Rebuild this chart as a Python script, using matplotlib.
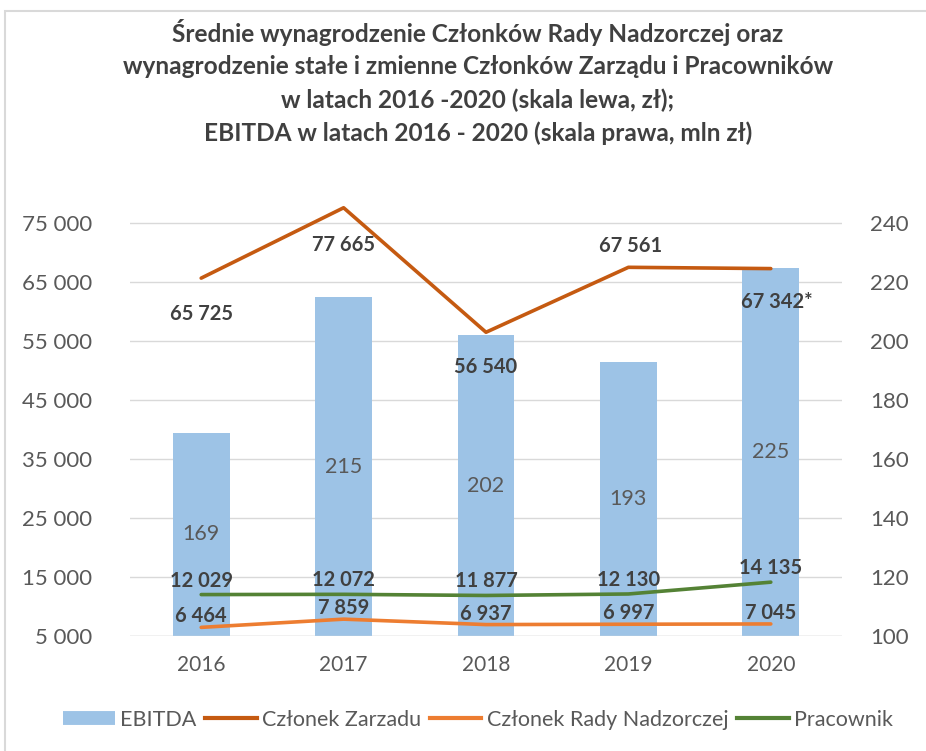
import matplotlib
matplotlib.use("Agg")
import matplotlib.pyplot as plt
from matplotlib.patches import Rectangle
from matplotlib.lines import Line2D
from matplotlib.ticker import FixedLocator, FuncFormatter

years = ["2016", "2017", "2018", "2019", "2020"]
ebitda = [169, 215, 202, 193, 225]
zarzad = [65725, 77665, 56540, 67561, 67342]
rada = [6464, 7859, 6937, 6997, 7045]
pracownik = [12029, 12072, 11877, 12130, 14135]
zarzad_labels = ["65 725", "77 665", "56 540", "67 561", "67 342*"]
left_ticks = [5000, 15000, 25000, 35000, 45000, 55000, 65000, 75000]
right_ticks = [100, 120, 140, 160, 180, 200, 220, 240]

title = ("Średnie wynagrodzenie Członków Rady Nadzorczej oraz\n"
         "wynagrodzenie stałe i zmienne Członków Zarządu i Pracowników\n"
         "w latach 2016 -2020 (skala lewa, zł);\n"
         "EBITDA w latach 2016 - 2020 (skala prawa, mln zł)")

C_BAR = "#9DC3E6"
C_ZAR = "#C55A11"
C_RADA = "#ED7D31"
C_PRAC = "#548235"
C_TXT = "#595959"
C_LBL = "#404040"
C_GRID = "#D9D9D9"
FONT = ["Lato", "DejaVu Sans"]

plt.rcParams['font.family'] = FONT

W, H = 926, 751
fig = plt.figure(figsize=(W / 100, H / 100), dpi=100)
fig.patch.set_facecolor("white")

# chart border
fig.add_artist(Rectangle((5 / W, -0.1), 1.2, 1 - 11 / H + 0.1, transform=fig.transFigure,
                         fill=False, edgecolor=C_GRID, linewidth=1.5))

ax = fig.add_axes([130 / W, 1 - 636 / H, 712 / W, (636 - 194) / H])
ax2 = ax.twinx()
ax.set_zorder(ax2.get_zorder() + 1)
ax.patch.set_visible(False)

x = list(range(len(years)))

# bars on right axis
ax2.bar(x, ebitda, width=0.40, color=C_BAR, zorder=2)
ax2.set_ylim(100, 250)
ax2.yaxis.set_major_locator(FixedLocator(right_ticks))
for xi, v in zip(x, ebitda):
    ax2.text(xi, (100 + v) / 2, str(v), ha="center", va="center",
             fontsize=15.5, color=C_TXT, zorder=4)

ax.set_ylim(5000, 80000)
ax.set_xlim(-0.5, len(years) - 0.5)
ax.yaxis.set_major_locator(FixedLocator(left_ticks))
ax.yaxis.set_major_formatter(FuncFormatter(lambda v, p: f"{int(v):,}".replace(",", " ")))

for t in right_ticks:
    ax2.axhline(t, color=C_GRID, linewidth=1, zorder=0)

LW = 2.6
ax.plot(x, zarzad, color=C_ZAR, linewidth=LW, solid_capstyle="round", zorder=3)
ax.plot(x, rada, color=C_RADA, linewidth=LW, solid_capstyle="round", zorder=3)
ax.plot(x, pracownik, color=C_PRAC, linewidth=LW, solid_capstyle="round", zorder=3)

zar_off = [(0, -36), (0, -37), (0, -35), (2, 21), (6, -33)]
for xi, v, lab, (dx, dy) in zip(x, zarzad, zarzad_labels, zar_off):
    ax.annotate(lab, (xi, v), xytext=(dx, dy), textcoords="offset pixels",
                ha="center", va="center", fontsize=14.5, fontweight="bold", color=C_LBL, zorder=5)

def fmt_num(v):
    return f"{v:,}".replace(",", " ")

for xi, v in zip(x, pracownik):
    ax.annotate(fmt_num(v), (xi, v), xytext=(0, 14), textcoords="offset pixels",
                ha="center", va="center", fontsize=14.5, fontweight="bold", color=C_LBL, zorder=5)
for xi, v in zip(x, rada):
    ax.annotate(fmt_num(v), (xi, v), xytext=(0, 11), textcoords="offset pixels",
                ha="center", va="center", fontsize=14.5, fontweight="bold", color=C_LBL, zorder=5)

ax.set_xticks(x)
ax.set_xticklabels(years)
for a in (ax, ax2):
    for s in a.spines.values():
        s.set_visible(False)
    a.tick_params(length=0, labelsize=16, colors=C_TXT)
ax.tick_params(axis="x", labelsize=15, pad=14)
ax.tick_params(axis="y", pad=27)
ax2.tick_params(axis="y", pad=20)
ax.axhline(5000, color=C_GRID, linewidth=1, zorder=1)

fig.text(478 / W, 1 - 82 / H, title, ha="center", va="center", fontsize=17.6,
         fontweight="bold", color=C_LBL, linespacing=1.5)

handles = [Line2D([], [], color=C_BAR, linewidth=10, solid_capstyle="butt", label="EBITDA"),
           Line2D([], [], color=C_ZAR, linewidth=3, label="Członek Zarzadu"),
           Line2D([], [], color=C_RADA, linewidth=3, label="Członek Rady Nadzorczej"),
           Line2D([], [], color=C_PRAC, linewidth=3, label="Pracownik")]
fig.legend(handles=handles, loc="center", bbox_to_anchor=(478 / W, 1 - 720 / H), ncol=4,
           frameon=False, fontsize=15.5, labelcolor=C_TXT, handlelength=2.4,
           handletextpad=0.25, columnspacing=0.4)

fig.savefig("out.png", dpi=100)
